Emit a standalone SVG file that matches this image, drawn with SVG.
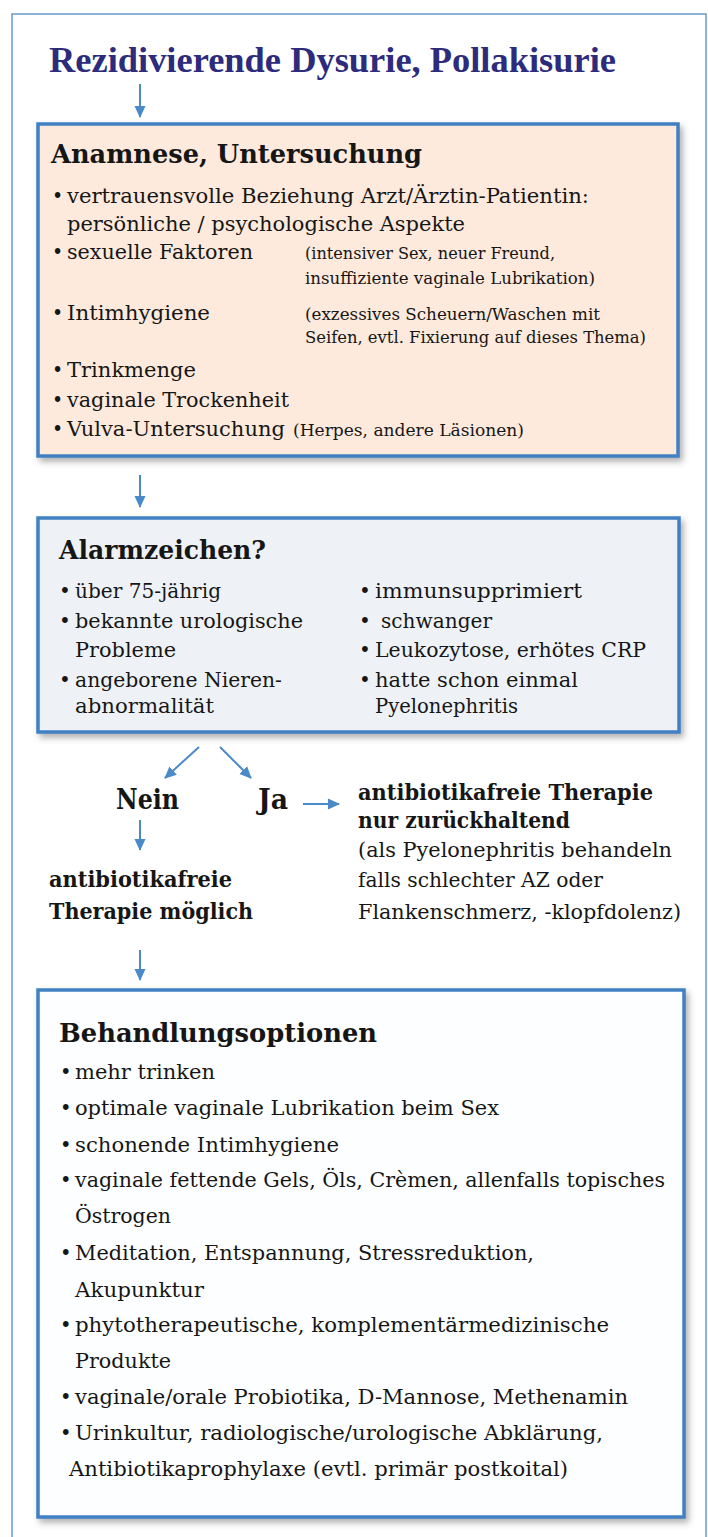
<svg xmlns="http://www.w3.org/2000/svg" width="708" height="1537" viewBox="0 0 708 1537">
<style>
.title{font-family:"Liberation Serif",serif;font-weight:bold;font-size:36px;fill:#2d2b7c}
.head{font-family:"DejaVu Serif",serif;font-weight:bold;font-size:26px;fill:#161616}
.b1{font-family:"DejaVu Serif Condensed","DejaVu Serif",serif;font-stretch:condensed;font-size:21px;fill:#161616}
.n1{font-family:"DejaVu Serif Condensed","DejaVu Serif",serif;font-stretch:condensed;font-size:16px;fill:#161616}
.b2{font-family:"DejaVu Serif",serif;font-size:20px;fill:#161616}
.bb{font-family:"DejaVu Serif",serif;font-weight:bold;font-size:22px;fill:#161616}
.big{font-family:"DejaVu Serif",serif;font-weight:bold;font-size:27px;fill:#161616}
.b3{font-family:"DejaVu Serif",serif;font-size:19.5px;fill:#161616}
.box{stroke:#3f80c3;stroke-width:3.5}
.conn line{stroke:#4a8ac9;stroke-width:2;marker-end:url(#ah)}
</style>
<defs>
<marker id="ah" viewBox="0 0 12 12" refX="11" refY="6" markerWidth="12" markerHeight="12" markerUnits="userSpaceOnUse" orient="auto">
<path d="M0,0.5 L12,6 L0,11.5 z" fill="#4a8ac9"/>
</marker>
<filter id="sh" x="-5%" y="-5%" width="112%" height="115%">
<feDropShadow dx="3" dy="4" stdDeviation="3" flood-color="#555" flood-opacity="0.45"/>
</filter>
</defs>
<rect width="708" height="1537" fill="#ffffff"/>
<rect x="12" y="14" width="694" height="1560" fill="none" stroke="#6a9ad0" stroke-width="1.5"/>

<g id="title">
<text class="title" x="49" y="72" textLength="567" lengthAdjust="spacingAndGlyphs">Rezidivierende Dysurie, Pollakisurie</text>
</g>

<g id="box1">
<rect class="box" x="38" y="124" width="640" height="332" fill="#fdeadc" filter="url(#sh)"/>
<text class="head" x="51" y="163" textLength="371" lengthAdjust="spacingAndGlyphs">Anamnese, Untersuchung</text>
<text class="b1" x="52" y="203">•</text>
<text class="b1" x="67" y="203" textLength="522" lengthAdjust="spacingAndGlyphs">vertrauensvolle Beziehung Arzt/Ärztin-Patientin:</text>
<text class="b1" x="67" y="231" textLength="398" lengthAdjust="spacingAndGlyphs">persönliche / psychologische Aspekte</text>
<text class="b1" x="52" y="259">•</text>
<text class="b1" x="67" y="259" textLength="186" lengthAdjust="spacingAndGlyphs">sexuelle Faktoren</text>
<text class="n1" x="305" y="259" textLength="250" lengthAdjust="spacingAndGlyphs">(intensiver Sex, neuer Freund,</text>
<text class="n1" x="305" y="284" textLength="290" lengthAdjust="spacingAndGlyphs">insuffiziente vaginale Lubrikation)</text>
<text class="b1" x="52" y="320">•</text>
<text class="b1" x="67" y="320" textLength="143" lengthAdjust="spacingAndGlyphs">Intimhygiene</text>
<text class="n1" x="305" y="320" textLength="295" lengthAdjust="spacingAndGlyphs">(exzessives Scheuern/Waschen mit</text>
<text class="n1" x="305" y="343" textLength="341" lengthAdjust="spacingAndGlyphs">Seifen, evtl. Fixierung auf dieses Thema)</text>
<text class="b1" x="52" y="377">•</text>
<text class="b1" x="67" y="377" textLength="129" lengthAdjust="spacingAndGlyphs">Trinkmenge</text>
<text class="b1" x="52" y="407">•</text>
<text class="b1" x="67" y="407" textLength="222" lengthAdjust="spacingAndGlyphs">vaginale Trockenheit</text>
<text class="b1" x="52" y="436">•</text>
<text class="b1" x="67" y="436" textLength="218" lengthAdjust="spacingAndGlyphs">Vulva-Untersuchung</text>
<text class="n1" x="293" y="436" textLength="231" lengthAdjust="spacingAndGlyphs">(Herpes, andere Läsionen)</text>
</g>

<g id="box2">
<rect class="box" x="38" y="518" width="641" height="214" fill="#eef2f7" filter="url(#sh)"/>
<text class="head" x="59" y="559" textLength="207" lengthAdjust="spacingAndGlyphs">Alarmzeichen?</text>
<text class="b2" x="59" y="598">•</text>
<text class="b2" x="75" y="598" textLength="146" lengthAdjust="spacingAndGlyphs">über 75-jährig</text>
<text class="b2" x="59" y="628">•</text>
<text class="b2" x="75" y="628" textLength="228" lengthAdjust="spacingAndGlyphs">bekannte urologische</text>
<text class="b2" x="75" y="657" textLength="101" lengthAdjust="spacingAndGlyphs">Probleme</text>
<text class="b2" x="59" y="687">•</text>
<text class="b2" x="75" y="687" textLength="207" lengthAdjust="spacingAndGlyphs">angeborene Nieren-</text>
<text class="b2" x="75" y="713" textLength="139" lengthAdjust="spacingAndGlyphs">abnormalität</text>
<text class="b2" x="359" y="598">•</text>
<text class="b2" x="375" y="598" textLength="207" lengthAdjust="spacingAndGlyphs">immunsupprimiert</text>
<text class="b2" x="359" y="628">•</text>
<text class="b2" x="381" y="628" textLength="111" lengthAdjust="spacingAndGlyphs">schwanger</text>
<text class="b2" x="359" y="657">•</text>
<text class="b2" x="375" y="657" textLength="271" lengthAdjust="spacingAndGlyphs">Leukozytose, erhötes CRP</text>
<text class="b2" x="359" y="687">•</text>
<text class="b2" x="375" y="687" textLength="203" lengthAdjust="spacingAndGlyphs">hatte schon einmal</text>
<text class="b2" x="375" y="713" textLength="143" lengthAdjust="spacingAndGlyphs">Pyelonephritis</text>
</g>

<g id="nein">
<text class="big" x="116" y="809" textLength="63" lengthAdjust="spacingAndGlyphs">Nein</text>
</g>
<g id="ja">
<text class="big" x="258" y="809" textLength="30" lengthAdjust="spacingAndGlyphs">Ja</text>
</g>
<g id="ja-result">
<text class="bb" x="358" y="800" textLength="295" lengthAdjust="spacingAndGlyphs">antibiotikafreie Therapie</text>
<text class="bb" x="358" y="828" textLength="212" lengthAdjust="spacingAndGlyphs">nur zurückhaltend</text>
<text class="b2" x="358" y="857" textLength="314" lengthAdjust="spacingAndGlyphs">(als Pyelonephritis behandeln</text>
<text class="b2" x="358" y="887" textLength="245" lengthAdjust="spacingAndGlyphs">falls schlechter AZ oder</text>
<text class="b2" x="358" y="919" textLength="323" lengthAdjust="spacingAndGlyphs">Flankenschmerz, -klopfdolenz)</text>
</g>
<g id="nein-result">
<text class="bb" x="49" y="887" textLength="183" lengthAdjust="spacingAndGlyphs">antibiotikafreie</text>
<text class="bb" x="49" y="919" textLength="204" lengthAdjust="spacingAndGlyphs">Therapie möglich</text>
</g>

<g id="box3">
<rect class="box" x="38" y="990" width="646" height="527" fill="#fdfeff" filter="url(#sh)"/>
<text class="head" x="59" y="1042" textLength="318" lengthAdjust="spacingAndGlyphs">Behandlungsoptionen</text>
<text class="b3" x="60" y="1079">•</text>
<text class="b3" x="75" y="1079" textLength="140" lengthAdjust="spacingAndGlyphs">mehr trinken</text>
<text class="b3" x="60" y="1115">•</text>
<text class="b3" x="75" y="1115" textLength="424" lengthAdjust="spacingAndGlyphs">optimale vaginale Lubrikation beim Sex</text>
<text class="b3" x="60" y="1152">•</text>
<text class="b3" x="75" y="1152" textLength="264" lengthAdjust="spacingAndGlyphs">schonende Intimhygiene</text>
<text class="b3" x="60" y="1187">•</text>
<text class="b3" x="75" y="1187" textLength="590" lengthAdjust="spacingAndGlyphs">vaginale fettende Gels, Öls, Crèmen, allenfalls topisches</text>
<text class="b3" x="75" y="1223" textLength="96" lengthAdjust="spacingAndGlyphs">Östrogen</text>
<text class="b3" x="60" y="1260">•</text>
<text class="b3" x="75" y="1260" textLength="459" lengthAdjust="spacingAndGlyphs">Meditation, Entspannung, Stressreduktion,</text>
<text class="b3" x="75" y="1297" textLength="129" lengthAdjust="spacingAndGlyphs">Akupunktur</text>
<text class="b3" x="60" y="1332">•</text>
<text class="b3" x="75" y="1332" textLength="534" lengthAdjust="spacingAndGlyphs">phytotherapeutische, komplementärmedizinische</text>
<text class="b3" x="75" y="1368" textLength="96" lengthAdjust="spacingAndGlyphs">Produkte</text>
<text class="b3" x="60" y="1404">•</text>
<text class="b3" x="75" y="1404" textLength="553" lengthAdjust="spacingAndGlyphs">vaginale/orale Probiotika, D-Mannose, Methenamin</text>
<text class="b3" x="60" y="1440">•</text>
<text class="b3" x="75" y="1440" textLength="528" lengthAdjust="spacingAndGlyphs">Urinkultur, radiologische/urologische Abklärung,</text>
<text class="b3" x="69" y="1476" textLength="499" lengthAdjust="spacingAndGlyphs">Antibiotikaprophylaxe (evtl. primär postkoital)</text>
</g>

<g id="connectors" class="conn">
<line x1="140" y1="84" x2="140" y2="117"/>
<line x1="140" y1="475" x2="140" y2="507"/>
<line x1="199" y1="747" x2="165" y2="778"/>
<line x1="220" y1="747" x2="251" y2="778"/>
<line x1="303" y1="804" x2="339" y2="804"/>
<line x1="140" y1="820" x2="140" y2="850"/>
<line x1="140" y1="950" x2="140" y2="980"/>
</g>
</svg>
